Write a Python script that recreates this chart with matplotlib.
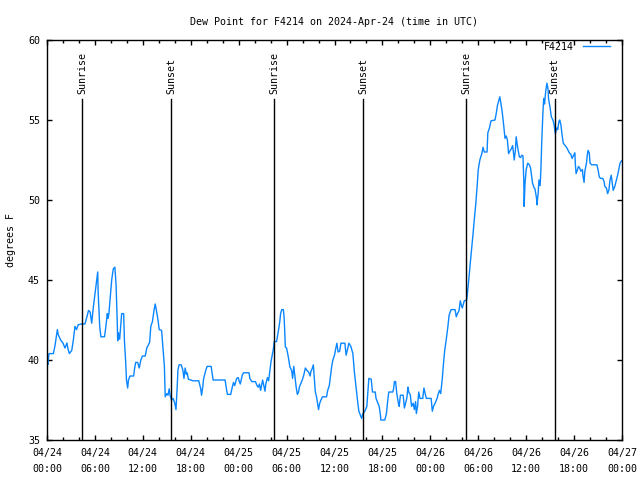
import matplotlib
matplotlib.use("Agg")
import matplotlib.pyplot as plt
from matplotlib.ticker import MultipleLocator

# hours since 2024-04-24 00:00 UTC
hours = [0.0, 0.1, 0.25, 0.8, 1.0, 1.3, 1.4, 1.7, 2.0, 2.25, 2.5, 2.6, 2.8, 3.1, 3.3, 3.5, 3.7, 3.9, 4.3, 4.75,
         5.0, 5.2, 5.4, 5.6, 5.8, 6.0, 6.2, 6.35, 6.4, 6.6, 6.75, 7.2, 7.35, 7.55, 7.65, 7.75, 7.95, 8.1, 8.3, 8.5,
         8.65, 8.8, 8.85, 8.95, 9.1, 9.25, 9.35, 9.6, 9.7, 9.85, 9.95, 10.1, 10.2, 10.4, 10.85, 10.95, 11.1, 11.35,
         11.55, 11.75, 11.95, 12.3, 12.5, 12.85, 13.0, 13.2, 13.4, 13.55, 13.7, 13.9, 14.05, 14.35, 14.55, 14.7,
         14.8, 15.0, 15.15, 15.3, 15.4, 15.6, 15.8, 16.0, 16.15, 16.3, 16.4, 16.55, 16.8, 17.0, 17.15, 17.3, 17.45,
         17.55, 17.7, 18.3, 19.0, 19.25, 19.35, 19.5, 19.6, 19.85, 20.05, 20.55, 20.8, 22.3, 22.5, 22.6, 23.0,
         23.2, 23.35, 23.5, 23.75, 23.95, 24.05, 24.2, 24.45, 24.6, 25.3, 25.4, 25.65, 26.1, 26.3, 26.45, 26.6,
         26.75, 26.9, 27.0, 27.15, 27.3, 27.4, 27.6, 27.75, 27.9, 28.05, 28.2, 28.35, 28.45, 28.75, 29.0, 29.15,
         29.25, 29.4, 29.6, 29.7, 29.85, 30.0, 30.1, 30.25, 30.4, 30.65, 30.75, 30.9, 31.05, 31.2, 31.35, 31.5,
         31.6, 31.8, 32.0, 32.15, 32.35, 32.55, 32.75, 32.95, 33.05, 33.2, 33.35, 33.45, 33.6, 33.75, 33.9, 34.0,
         34.15, 34.3, 34.5, 35.0, 35.15, 35.35, 35.5, 35.65, 35.8, 36.0, 36.15, 36.3, 36.45, 36.65, 36.8, 37.3,
         37.45, 37.6, 37.8, 38.05, 38.3, 38.5, 38.7, 38.9, 39.05, 39.2, 39.4, 39.55, 39.8, 40.05, 40.2, 40.3,
         40.6, 40.75, 41.1, 41.2, 41.6, 41.75, 41.8, 42.3, 42.5, 42.65, 42.8, 43.3, 43.4, 43.5, 43.65, 43.8, 44.0,
         44.1, 44.25, 44.6, 44.75, 44.9, 45.05, 45.2, 45.3, 45.5, 45.65, 45.85, 46.0, 46.15, 46.25, 46.4, 46.55,
         46.7, 47.05, 47.2, 47.35, 47.5, 48.1, 48.25, 48.4, 48.6, 48.85, 49.0, 49.15, 49.3, 49.5, 49.65, 49.8,
         50.0, 50.2, 50.35, 50.6, 51.1, 51.25, 51.4, 51.6, 51.75, 51.9, 52.0, 52.25, 52.55, 52.65, 52.85, 53.0,
         53.2, 53.35, 53.5, 53.7, 53.85, 54.0, 54.2, 54.45, 54.6, 54.75, 55.1, 55.2, 55.4, 55.6, 56.1, 56.25,
         56.4, 56.6, 56.7, 56.85, 57.0, 57.2, 57.35, 57.5, 57.65, 57.8, 58.0, 58.15, 58.3, 58.4, 58.5, 58.65,
         58.75, 58.9, 59.0, 59.15, 59.3, 59.45, 59.6, 59.7, 59.75, 59.85, 60.0, 60.2, 60.4, 60.55, 60.8, 61.0,
         61.1, 61.3, 61.35, 61.5, 61.6, 61.75, 61.85, 61.95, 62.1, 62.2, 62.3, 62.45, 62.6, 62.75, 62.8, 63.0,
         63.15, 63.35, 63.5, 63.65, 63.85, 63.95, 64.1, 64.2, 64.35, 64.5, 64.65, 64.8, 65.05, 65.25, 65.4, 65.6,
         65.75, 65.95, 66.1, 66.15, 66.25, 66.4, 66.55, 66.7, 66.85, 67.05, 67.1, 67.25, 67.35, 67.55, 67.65,
         67.75, 67.9, 68.0, 68.2, 68.85, 69.0, 69.15, 69.3, 69.6, 69.75, 69.85, 70.05, 70.2, 70.35, 70.5, 70.65,
         70.75, 70.9, 71.1, 71.2, 71.45, 71.6, 71.75, 71.95]

dewpoint = [40.0, 39.7, 40.4, 40.4, 40.9, 41.9, 41.6, 41.25, 41.06, 40.75, 41.06, 40.75, 40.4, 40.6, 41.25, 42.1,
            41.9, 42.2, 42.25, 42.25, 42.7, 43.1, 43.0, 42.3, 43.3, 44.1, 44.9, 45.5, 44.3, 42.1, 41.45, 41.45,
            42.0, 42.9, 42.6, 42.9, 44.1, 45.0, 45.7, 45.8, 44.7, 42.3, 41.2, 41.7, 41.3, 42.3, 42.9, 42.9, 41.15,
            39.9, 38.75, 38.25, 38.75, 39.0, 39.0, 39.4, 39.85, 39.85, 39.5, 40.0, 40.25, 40.25, 40.75, 41.1, 42.1,
            42.4, 43.1, 43.5, 43.1, 42.5, 41.9, 41.85, 40.6, 39.6, 37.7, 37.9, 37.8, 38.2, 37.8, 37.5, 37.6, 37.3,
            36.9, 38.3, 39.4, 39.7, 39.7, 39.4, 38.85, 39.5, 39.1, 39.2, 38.8, 38.7, 38.7, 38.2, 37.8, 38.3, 38.8,
            39.3, 39.6, 39.6, 38.75, 38.75, 38.1, 37.85, 37.85, 38.3, 38.6, 38.4, 38.85, 38.9, 38.7, 38.5, 39.05,
            39.2, 39.2, 38.85, 38.65, 38.65, 38.4, 38.3, 38.5, 38.1, 38.5, 38.75, 38.4, 38.05, 38.5, 38.9, 38.7,
            39.3, 39.9, 40.3, 40.7, 41.15, 41.15, 41.9, 42.4, 42.9, 43.15, 43.15, 42.6, 40.8, 40.75, 40.5, 40.1,
            39.6, 39.3, 38.85, 39.6, 38.95, 38.3, 37.85, 38.0, 38.3, 38.55, 38.8, 39.05, 39.5, 39.35, 39.25, 39.0,
            39.3, 39.45, 39.7, 39.0, 38.0, 37.7, 37.2, 36.9, 37.3, 37.5, 37.7, 37.7, 38.1, 38.4, 39.0, 39.6, 40.0,
            40.3, 40.7, 41.05, 40.5, 40.55, 41.05, 41.05, 40.3, 40.6, 41.05, 40.85, 40.4, 39.2, 38.3, 37.4, 36.8,
            36.6, 36.35, 36.65, 36.8, 37.1, 38.1, 38.85, 38.8, 38.0, 38.0, 37.6, 37.1, 36.55, 36.25, 36.25, 36.65,
            37.4, 38.0, 38.0, 38.2, 38.65, 38.65, 37.9, 37.3, 37.1, 37.8, 37.8, 37.0, 37.3, 37.6, 38.3, 38.0, 37.8,
            37.1, 37.3, 36.9, 37.4, 36.65, 37.1, 38.0, 37.6, 37.6, 38.25, 37.9, 37.6, 37.6, 36.8, 37.1, 37.3, 37.6,
            37.9, 38.1, 37.9, 38.85, 39.8, 40.6, 41.3, 42.1, 42.8, 43.15, 43.15, 42.7, 42.9, 43.1, 43.7, 43.4,
            43.25, 43.7, 43.75, 44.2, 45.2, 46.05, 47.1, 47.9, 48.75, 49.8, 50.8, 51.9, 52.5, 52.9, 53.3, 53.0,
            53.0, 54.2, 54.5, 54.95, 55.0, 55.4, 55.9, 56.25, 56.45, 56.0, 55.5, 54.6, 53.85, 54.0, 53.75, 52.9,
            53.1, 53.2, 53.4, 53.0, 52.5, 53.1, 53.95, 53.4, 53.1, 52.7, 52.65, 52.8, 52.75, 51.25, 49.6, 51.0,
            51.9, 52.3, 52.2, 52.0, 51.05, 50.75, 50.7, 50.1, 49.7, 50.4, 51.25, 50.9, 51.95, 53.65, 55.5, 56.35,
            56.0, 56.8, 57.3, 56.9, 56.35, 55.75, 55.2, 55.0, 54.7, 54.15, 54.5, 54.4, 54.9, 55.0, 54.7, 54.05,
            53.55, 53.45, 53.3, 53.1, 52.95, 52.85, 52.6, 52.8, 52.95, 52.3, 51.65, 51.85, 52.1, 52.0, 51.8, 51.9,
            51.55, 51.1, 51.8, 52.3, 52.8, 53.1, 52.95, 52.3, 52.2, 52.2, 51.9, 51.45, 51.35, 51.35, 51.15, 50.85,
            50.75, 50.4, 50.6, 51.25, 51.55, 51.15, 50.6, 50.85, 51.05, 51.55, 51.9, 52.3, 52.45]

event_hours = [4.42, 15.57, 28.47, 39.6, 52.5, 63.55]
event_labels = ["Sunrise", "Sunset", "Sunrise", "Sunset", "Sunrise", "Sunset"]

tick_hours = [0, 6, 12, 18, 24, 30, 36, 42, 48, 54, 60, 66, 72]
tick_labels = ["04/24\n00:00", "04/24\n06:00", "04/24\n12:00", "04/24\n18:00", "04/25\n00:00",
               "04/25\n06:00", "04/25\n12:00", "04/25\n18:00", "04/26\n00:00", "04/26\n06:00",
               "04/26\n12:00", "04/26\n18:00", "04/27\n00:00"]

FONT = "DejaVu Sans Mono"
FS = 7.2
plt.rcParams['font.family'] = FONT
plt.rcParams['font.size'] = FS

fig = plt.figure(figsize=(6.4, 4.8), dpi=100)
ax = fig.add_axes([47 / 640, 40 / 480, 575 / 640, 400 / 480])

ax.plot(hours, dewpoint, color='#0a86ff', lw=1.0, label='F4214')

for h, lab in zip(event_hours, event_labels):
    ax.plot([h, h], [35, 56.3], color='black', lw=1.0)
    ax.text(h, 56.6, lab, rotation=90, ha='center', va='bottom', fontsize=FS)

ax.set_xlim(0, 72)
ax.set_ylim(35, 60)
ax.set_xticks(tick_hours)
ax.set_xticklabels(tick_labels, linespacing=1.75)
ax.xaxis.set_minor_locator(MultipleLocator(2))
ax.set_yticks([35, 40, 45, 50, 55, 60])
ax.tick_params(which='both', direction='in', top=True, right=True, width=1.0, colors='black')
ax.tick_params(which='major', length=3.5)
ax.tick_params(which='minor', length=2.0)
ax.tick_params(axis='x', pad=6)
ax.tick_params(axis='y', pad=5)
for s in ax.spines.values():
    s.set_linewidth(1.0)

ax.set_title("Dew Point for F4214 on 2024-Apr-24 (time in UTC)", fontsize=FS, pad=11)
ax.set_ylabel("degrees F", fontsize=FS, labelpad=9)

ax.legend(loc='upper right', frameon=False, markerfirst=False, handlelength=2.7,
          borderaxespad=0.2, borderpad=0.0, fontsize=FS, handletextpad=0.9,
          bbox_to_anchor=(1.0 - 10 / 575, 1.0))

fig.savefig("out.png", dpi=100)
